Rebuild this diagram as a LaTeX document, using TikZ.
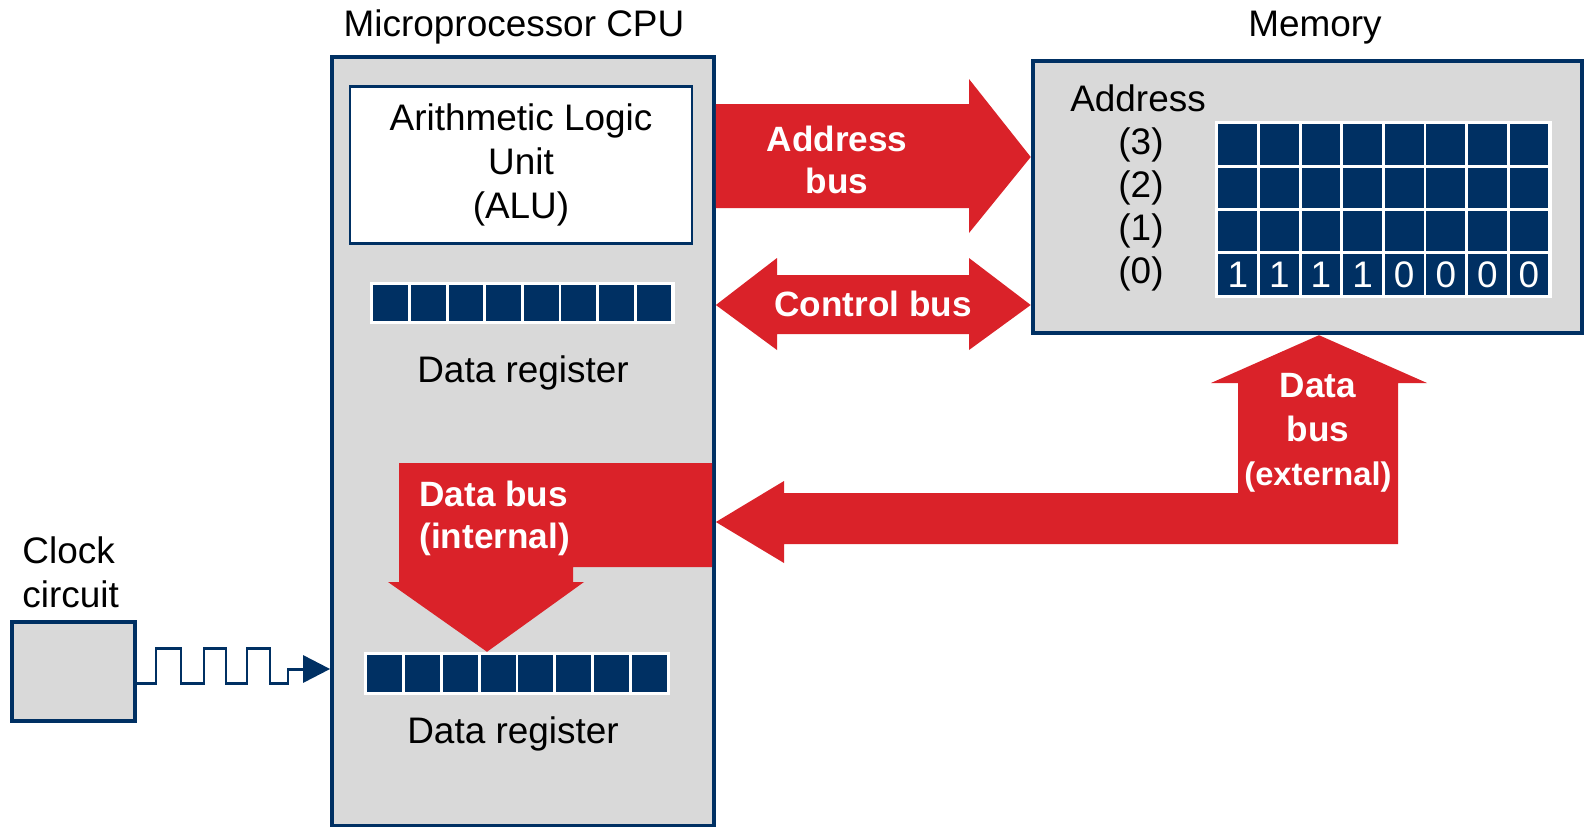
\documentclass[tikz,border=0pt]{standalone}
\usepackage{fontspec}
\setmainfont{Liberation Sans}
\usetikzlibrary{arrows.meta}
\usetikzlibrary{positioning}
\definecolor{navy}{HTML}{003063}
\definecolor{busred}{HTML}{DA2229}
\definecolor{panel}{HTML}{D9D9D9}
\tikzset{unit/.style = {draw=navy, line width=1pt, fill=panel, inner sep=0}}
\tikzset{cell/.style = {fill=navy, draw=white, line width=0.8pt, inner sep=0}}
\tikzset{frame/.style = {fill=white, inner sep=0}}
\tikzset{bus/.style = {fill=busred}}
\tikzset{buslabel/.style = {text=white, font=\bfseries, align=center}}
\tikzset{wave/.style = {draw=navy, line width=0.85pt, -{Triangle[length=7.7pt, width=7.7pt]}}}

\begin{document}
\begin{tikzpicture}[x=0.01cm, y=-0.01cm, font=\fontsize{10.5pt}{12.6pt}\selectfont]
    \useasboundingbox (0,0) rectangle (1584,827);
    % boxes
    \node [unit, minimum width=3.82cm, minimum height=7.69cm] (cpu) at (523, 441.5) {};
    \node [unit, line width=1.2pt, minimum width=5.49cm, minimum height=2.72cm] (mem) at (1307.5, 197) {};
    \node [unit, line width=0.9pt, minimum width=1.23cm, minimum height=0.99cm] (clk) at (73.5, 671.5) {};
    \node [draw=navy, line width=0.7pt, fill=white, minimum width=3.42cm, minimum height=1.57cm, align=center] (alu) at (521, 165) {Arithmetic Logic\\Unit\\(ALU)};
    \node (cputitle) at (514, 27) {Microprocessor CPU};
    \node (memtitle) at (1315, 28) {Memory};
    \node [align=left, anchor=west] (clktitle) at (10, 572) {Clock\\circuit};
    % registers
    \node [frame, minimum width=3.04cm, minimum height=0.41cm] (rega) at (522.5, 303) {};
    \node [frame, minimum width=3.05cm, minimum height=0.42cm] (regb) at (517, 673.5) {};
    \foreach \i in {0,...,7} {
      \node [cell, minimum width=0.376cm, minimum height=0.38cm] (ra\i) at ({372+18.8+37.6*\i}, 303) {};
      \node [cell, minimum width=0.3775cm, minimum height=0.39cm] (rb\i) at ({366+18.9+37.75*\i}, 673.5) {};
    }
    \node (rega label) at (523, 373) {Data register};
    \node (regb label) at (513, 734) {Data register};
    % memory cells
    \node (addr) at (1138, 98) {Address};
    \node [frame, minimum width=3.36cm, minimum height=1.76cm] (grid) at (1383.5, 209.5) {};
    \foreach \c/\b in {0/1,1/1,2/1,3/1,4/0,5/0,6/0,7/0} {
      \node [cell, text=white, minimum width=0.416cm, minimum height=0.4325cm] (m0\c) at ({1217+20.8+41.6*\c}, 274.4) {\b};
      \foreach \r in {1,2,3}
        \node [cell, minimum width=0.416cm, minimum height=0.4325cm] (m\r\c) at ({1217+20.8+41.6*\c}, {274.4-43.25*\r}) {};
    }
    \foreach \r in {0,...,3}
      \node (row\r) at (1141, {274.4-43.25*\r}) {(\r)};
    % buses
    \fill [bus] (cpu.east |- 0,104) -- (969,104) -- (969,79) -- (mem.west |- 0,157) -- (969,233) -- (969,208) -- (cpu.east |- 0,208) -- cycle;
    \fill [bus] (cpu.east |- 0,305) -- (777,258) -- (777,275) -- (969,275) -- (969,258) -- (mem.west |- 0,305) -- (969,350) -- (969,334) -- (777,334) -- (777,350) -- cycle;
    \fill [bus] (399,463) -- (712,463) -- (712,567) -- (573,567) -- (573,582) -- (584,582) -- (487,0 |- regb.north) -- (388,582) -- (399,582) -- cycle;
    \fill [bus] (cpu.east |- 0,522) -- (784,481) -- (784,493) -- (1238,493) -- (1238,383) -- (1211,383) -- (1319,0 |- mem.south) -- (1427,383) -- (1398,383) -- (1398,544) -- (784,544) -- (784,563) -- cycle;
    \node [buslabel] (abus) at (837, 160) {Address\\bus};
    \node [buslabel] (cbus) at (873, 304) {Control bus};
    \node [buslabel, align=left, anchor=west] (ibus) at (407, 518) {Data bus\\(internal)};
    \node [buslabel] (ebus) at (1318, 433) {Data\\[0.4pt]bus\\[0.6pt]{\fontsize{9.3pt}{12.6pt}\selectfont (external)}};
    % clock
    \draw [wave] (clk.east |- 0,683) -| (156,648) -| (181,683) -| (204,648) -| (226,683) -| (247,648) -| (270,683) -| (288,669) -- (cpu.west |- 0,669);
\end{tikzpicture}
\end{document}
